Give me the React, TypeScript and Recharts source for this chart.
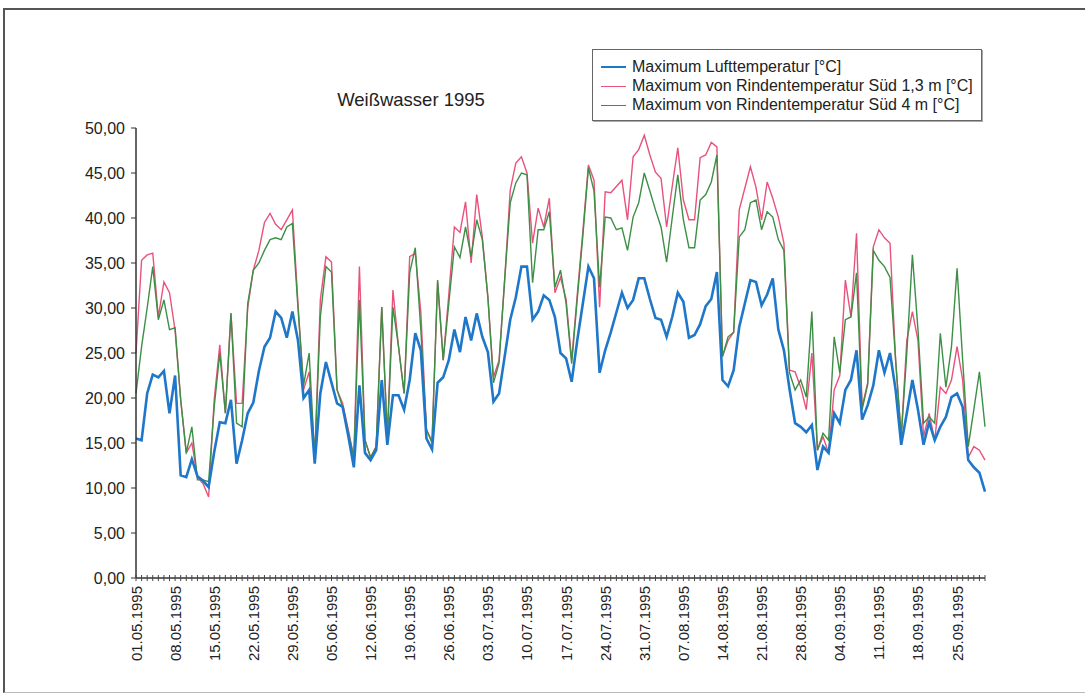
import { LineChart, Line, XAxis, YAxis } from "recharts";

// Daily maxima, 01.05.1995 – 30.09.1995
const months: [string, number][] = [
  ["05", 31],
  ["06", 30],
  ["07", 31],
  ["08", 31],
  ["09", 30],
];

const dates = months.flatMap(([month, days]) =>
  Array.from({ length: days }, (_, d) => `${String(d + 1).padStart(2, "0")}.${month}.1995`)
);

const airMax = [
  15.5, 15.3, 20.5, 22.6, 22.3, 23.0, 18.3, 22.5, 11.4, 11.2,
  13.2, 11.3, 10.8, 10.1, 14.0, 17.3, 17.2, 19.8, 12.7, 15.3,
  18.3, 19.5, 23.0, 25.7, 26.7, 29.6, 28.9, 26.7, 29.6, 26.4,
  20.0, 20.9, 12.7, 20.5, 24.0, 21.7, 19.4, 19.0, 15.8, 12.3,
  21.4, 13.9, 13.1, 14.2, 22.0, 14.8, 20.3, 20.3, 18.7, 22.0,
  27.2, 25.3, 15.5, 14.3, 21.7, 22.3, 24.2, 27.6, 25.1, 29.0,
  26.4, 29.4, 26.8, 25.1, 19.6, 20.5, 24.6, 28.7, 31.2, 34.6,
  34.6, 28.7, 29.6, 31.4, 30.9, 29.0, 25.0, 24.4, 21.8, 26.4,
  30.5, 34.6, 33.3, 22.8, 25.3, 27.3, 29.5, 31.7, 30.0, 30.9,
  33.3, 33.3, 31.0, 28.9, 28.7, 26.8, 29.0, 31.7, 30.7, 26.7,
  27.0, 28.2, 30.2, 31.0, 34.0, 22.0, 21.3, 23.1, 27.9, 30.5,
  33.1, 32.9, 30.3, 31.5, 33.3, 27.6, 25.3, 21.0, 17.2, 16.8,
  16.2, 17.0, 12.0, 14.6, 13.9, 18.3, 17.2, 20.9, 22.0, 25.3,
  17.6, 19.2, 21.4, 25.3, 22.8, 25.0, 20.9, 14.8, 18.3, 22.0,
  18.7, 14.8, 17.3, 15.3, 16.8, 17.9, 20.1, 20.5, 19.0, 13.1,
  12.3, 11.7, 9.6,
];

const barkSouth13 = [
  25.0, 35.3, 35.9, 36.1, 29.0, 32.9, 31.7, 27.5, 19.8, 13.9,
  15.0, 11.2, 10.5, 9.0, 19.8, 25.9, 18.3, 29.4, 19.4, 19.4,
  30.0, 34.2, 36.4, 39.5, 40.5, 39.3, 38.7, 39.8, 40.9, 30.5,
  20.9, 22.9, 13.4, 30.9, 35.7, 35.1, 20.9, 19.4, 16.5, 13.4,
  34.6, 15.3, 13.4, 14.6, 30.1, 15.7, 32.0, 25.7, 20.5, 35.7,
  36.1, 29.5, 16.5, 15.2, 32.9, 24.2, 31.5, 39.0, 38.4, 41.8,
  35.0, 42.6, 37.9, 31.2, 22.3, 24.2, 33.1, 43.1, 46.1, 46.8,
  45.0, 37.2, 41.1, 39.0, 42.2, 31.7, 33.4, 31.0, 24.2, 31.5,
  38.5, 45.9, 44.2, 30.1, 42.9, 42.8, 43.5, 44.2, 39.8, 46.8,
  47.6, 49.2, 47.0, 45.1, 44.4, 39.0, 43.5, 47.8, 42.0, 39.8,
  39.8, 46.7, 47.0, 48.4, 47.9, 24.6, 26.4, 27.3, 40.9, 43.3,
  45.7, 43.4, 39.8, 44.0, 42.2, 40.1, 37.2, 23.1, 22.9, 21.2,
  18.7, 25.0, 14.2, 15.7, 13.9, 20.9, 22.5, 33.1, 29.0, 38.3,
  19.0, 21.7, 36.8, 38.7, 37.8, 37.2, 24.2, 15.7, 26.4, 29.6,
  26.4, 15.7, 18.3, 15.3, 21.2, 20.5, 22.0, 25.7, 22.0, 13.4,
  14.6, 14.2, 13.1,
];

const barkSouth4 = [
  20.5, 25.7, 30.0, 34.6, 28.7, 30.9, 27.6, 27.8, 19.8, 13.9,
  16.8, 10.9, 10.9, 10.7, 19.0, 25.0, 18.3, 29.4, 17.2, 16.8,
  30.5, 34.2, 35.0, 36.4, 37.6, 37.8, 37.6, 39.0, 39.4, 30.0,
  21.4, 25.0, 13.4, 29.0, 34.6, 34.0, 20.9, 19.0, 16.2, 13.4,
  30.9, 15.3, 13.4, 14.6, 30.1, 15.7, 30.1, 25.7, 20.5, 33.9,
  36.7, 27.5, 16.5, 15.0, 33.1, 24.2, 30.5, 36.8, 35.6, 39.0,
  35.7, 39.8, 37.6, 31.2, 21.7, 23.9, 33.1, 41.7, 43.9, 45.0,
  44.8, 32.8, 38.7, 38.7, 40.7, 32.3, 34.2, 30.5, 23.8, 31.0,
  38.0, 45.6, 43.0, 32.3, 40.1, 40.0, 38.7, 38.9, 36.4, 40.1,
  41.7, 45.0, 43.0, 40.9, 39.0, 35.1, 40.0, 44.8, 39.8, 36.7,
  36.7, 42.0, 42.6, 44.0, 47.0, 24.6, 26.8, 27.3, 37.9, 38.7,
  41.7, 42.0, 38.7, 40.7, 40.1, 37.6, 36.4, 22.8, 20.9, 22.0,
  20.1, 29.6, 14.2, 16.1, 15.3, 26.8, 22.8, 28.7, 29.0, 33.9,
  18.7, 21.5, 36.4, 35.3, 34.6, 33.4, 24.2, 15.7, 25.0, 35.9,
  27.6, 17.2, 17.9, 17.2, 27.2, 21.2, 25.7, 34.4, 24.2, 14.6,
  18.7, 22.9, 16.8,
];

const yTicks = [0, 5, 10, 15, 20, 25, 30, 35, 40, 45, 50];

const seriesNames = [
  "Maximum Lufttemperatur [°C]",
  "Maximum von Rindentemperatur Süd 1,3 m [°C]",
  "Maximum von Rindentemperatur Süd 4 m [°C]",
];

const colors = {
  air: "#1f77c9",
  bark13: "#e9527c",
  bark4: "#3d8f45",
};

const chartData = dates.map((date, i) => ({
  date,
  air: airMax[i],
  bark13: barkSouth13[i],
  bark4: barkSouth4[i],
}));

const font = "'Liberation Sans', Arial, sans-serif";

const formatDe = (v: number) => v.toFixed(2).replace(".", ",");

// one small cross tick per day, a rotated label every seventh day
function DayTick(props: any) {
  const { x, y, payload, index } = props;
  return (
    <g>
      <line x1={x} x2={x} y1={y - 3} y2={y + 3} stroke="#444" strokeWidth={1} />
      {index % 7 === 0 && (
        <text
          transform={`translate(${x},${y + 8}) rotate(-90)`}
          textAnchor="end"
          dominantBaseline="central"
          fontSize={15}
          fontFamily={font}
          fill="#222"
        >
          {payload.value}
        </text>
      )}
    </g>
  );
}

function LegendBox() {
  const entries = [
    { name: seriesNames[0], color: colors.air, width: 2.5 },
    { name: seriesNames[1], color: colors.bark13, width: 1.3 },
    { name: seriesNames[2], color: colors.bark4, width: 1.3 },
  ];
  return (
    <div
      style={{
        position: "absolute",
        left: 592,
        top: 49,
        width: 388,
        height: 70,
        border: "1.5px solid #666",
        boxShadow: "1px 1px 0 #aaa",
        background: "#fff",
        fontFamily: font,
        fontSize: 16,
        color: "#222",
      }}
    >
      {entries.map((e, i) => (
        <div
          key={e.name}
          style={{
            position: "absolute",
            left: 8,
            top: 8 + i * 19,
            height: 18,
            display: "flex",
            alignItems: "center",
            whiteSpace: "nowrap",
          }}
        >
          <span
            style={{
              display: "inline-block",
              width: 25,
              height: 0,
              borderTop: `${e.width}px solid ${e.color}`,
              marginRight: 6,
            }}
          />
          {e.name}
        </div>
      ))}
    </div>
  );
}

export default function App() {
  return (
    <div
      style={{
        position: "absolute",
        left: 0,
        top: 0,
        width: 1085,
        height: 696,
        overflow: "hidden",
        background: "#fff",
        fontFamily: font,
      }}
    >
      <div
        style={{
          position: "absolute",
          left: 3,
          top: 8,
          width: 1100,
          height: 682,
          borderTop: "2px solid #555",
          borderLeft: "2px solid #555",
          borderBottom: "1px solid #bbb",
        }}
      />

      <LineChart
        width={1085}
        height={696}
        data={chartData}
        margin={{ top: 128, right: 100, bottom: 28, left: 76 }}
        style={{ position: "absolute", left: 0, top: 0 }}
      >
        <XAxis
          dataKey="date"
          interval={0}
          height={90}
          tickSize={0}
          tickMargin={0}
          tick={<DayTick />}
          axisLine={{ stroke: "#333", strokeWidth: 1.5 }}
          tickLine={false}
        />
        <XAxis
          xAxisId="top"
          dataKey="date"
          orientation="top"
          height={0}
          tick={false}
          tickLine={false}
          axisLine={{ stroke: "#333", strokeWidth: 1.5 }}
        />
        <YAxis
          domain={[0, 50]}
          ticks={yTicks}
          width={60}
          tickFormatter={formatDe}
          tickSize={5}
          tickMargin={6}
          axisLine={{ stroke: "#333", strokeWidth: 1.5 }}
          tickLine={{ stroke: "#333" }}
          tick={{ fontSize: 16, fontFamily: font, fill: "#222" }}
          interval={0}
        />
        <YAxis
          yAxisId="right"
          orientation="right"
          domain={[0, 50]}
          width={0}
          tick={false}
          tickLine={false}
          axisLine={{ stroke: "#444", strokeWidth: 1.5 }}
        />
        <Line
          type="linear"
          dataKey="bark13"
          name={seriesNames[1]}
          stroke={colors.bark13}
          strokeWidth={1.4}
          dot={false}
          isAnimationActive={false}
        />
        <Line
          type="linear"
          dataKey="bark4"
          name={seriesNames[2]}
          stroke={colors.bark4}
          strokeWidth={1.4}
          dot={false}
          isAnimationActive={false}
        />
        <Line
          type="linear"
          dataKey="air"
          name={seriesNames[0]}
          stroke={colors.air}
          strokeWidth={2.6}
          dot={false}
          isAnimationActive={false}
        />
      </LineChart>

      <div
        style={{
          position: "absolute",
          left: 311,
          top: 89,
          width: 200,
          textAlign: "center",
          fontSize: 18.5,
          color: "#222",
        }}
      >
        Weißwasser 1995
      </div>

      <LegendBox />
    </div>
  );
}
